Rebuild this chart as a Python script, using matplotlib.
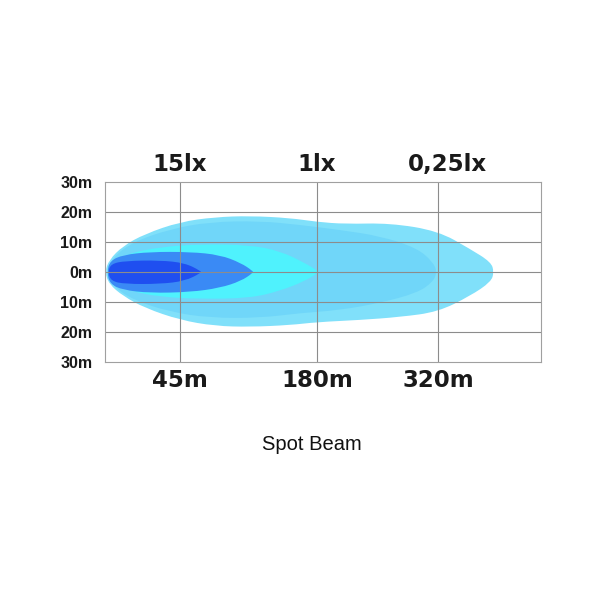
import matplotlib.pyplot as plt
from matplotlib.path import Path
from matplotlib.patches import PathPatch

# diagram x runs in drawing units from the left border (0..436), y in metres
y_ticks = [30, 20, 10, 0, -10, -20, -30]
y_labels = ["30m", "20m", "10m", "0m", "10m", "20m", "30m"]
x_grid = [75, 212, 333]
dist_labels = ["45m", "180m", "320m"]
lux_labels = ["15lx", "1lx", "0,25lx"]
lux_pos = [75, 212, 342]

# beam contours (outline points, x along beam, y in metres)
outer = [(0, 0), (4, 4), (18, 8.7), (40, 12.7), (75, 16.7), (110, 18.3), (145, 18.7),
         (185, 18), (212, 16.7), (240, 16), (285, 16.3), (333, 13.7), (365, 7.7),
         (386, 3.3), (389, 0), (386, -3.3), (365, -8), (333, -13.3), (295, -15),
         (255, -16), (212, -16.7), (185, -17.7), (145, -18.3), (110, -18),
         (75, -16), (40, -12), (18, -8), (4, -4)]
middle = [(2, 0), (8, 5), (28, 10), (65, 14.3), (105, 16.7), (155, 17),
          (195, 15.7), (235, 14), (275, 12), (312, 8), (328, 3.3), (332, 0),
          (328, -3.3), (312, -7), (275, -10.3), (235, -12.7), (195, -13.7),
          (155, -15.3), (105, -15.3), (65, -13.3), (28, -9.3), (8, -4.7)]
cyan = [(3, 0), (8, 3.7), (25, 6.3), (55, 8.3), (95, 9.3), (145, 9), (175, 7),
        (200, 3), (213, 0.3), (213, -0.3), (200, -3), (175, -6.3), (145, -8.7),
        (95, -9), (55, -8.3), (25, -6.3), (8, -3.7)]
mid_blue = [(2, 0), (5, 3.7), (18, 5.7), (45, 6.7), (85, 6.7), (115, 5.7),
            (136, 3), (148, 0.3), (148, -0.3), (136, -3), (115, -5.3),
            (85, -6.7), (45, -7), (18, -6), (5, -4)]
dark_blue = [(3, 0), (6, 2.7), (20, 3.7), (55, 3.9), (80, 3), (96, 0.3),
             (96, -0.3), (80, -3), (55, -4), (20, -4), (6, -3)]

shapes = [outer, middle, cyan, mid_blue, dark_blue]
colors = ["#80e0fa", "#70d6f9", "#4ff2fd", "#3a8af5", "#1f4ff0"]


def smooth_path(pts):
    # outline points act as quadratic control points, midpoints lie on the curve
    n = len(pts)
    mids = [((pts[i][0] + pts[(i + 1) % n][0]) / 2,
             (pts[i][1] + pts[(i + 1) % n][1]) / 2) for i in range(n)]
    verts = [mids[-1]]
    codes = [Path.MOVETO]
    for i in range(n):
        verts += [pts[i], mids[i]]
        codes += [Path.CURVE3, Path.CURVE3]
    verts.append(mids[-1])
    codes.append(Path.CLOSEPOLY)
    return Path(verts, codes)


fig = plt.figure(figsize=(6, 6), dpi=100)
ax = fig.add_axes([105 / 600, 1 - 362 / 600, 436 / 600, 180 / 600])
ax.set_xlim(0, 436)
ax.set_ylim(-30, 30)

for pts, c in zip(shapes, colors):
    ax.add_patch(PathPatch(smooth_path(pts), facecolor=c, edgecolor="none", zorder=1))

for x in x_grid:
    ax.axvline(x, color="#8c8c8c", lw=0.8, zorder=2)
for y in y_ticks[1:-1]:
    ax.axhline(y, color="#8c8c8c", lw=0.8, zorder=2)
for s in ax.spines.values():
    s.set_color("#a0a0a0")
    s.set_linewidth(0.8)

ax.set_xticks([])
ax.set_yticks(y_ticks)
ax.set_yticklabels(y_labels, fontsize=11.5, fontweight="bold",
                   family="Liberation Sans", color="#1a1a1a")
ax.tick_params(axis="y", length=0, pad=9)

for x, lab in zip(x_grid, dist_labels):
    ax.text(x, -36, lab, ha="center", va="center", fontsize=16.5,
            fontweight="bold", family="DejaVu Sans", color="#1a1a1a")
for x, lab in zip(lux_pos, lux_labels):
    ax.text(x, 36, lab, ha="center", va="center", fontsize=16.5,
            fontweight="bold", family="DejaVu Sans", color="#1a1a1a")

fig.text(312 / 600, 1 - 444 / 600, "Spot Beam", ha="center", va="center",
         fontsize=14.5, family="Liberation Sans", color="#111111")

fig.savefig("out.png", dpi=100, facecolor="white")
